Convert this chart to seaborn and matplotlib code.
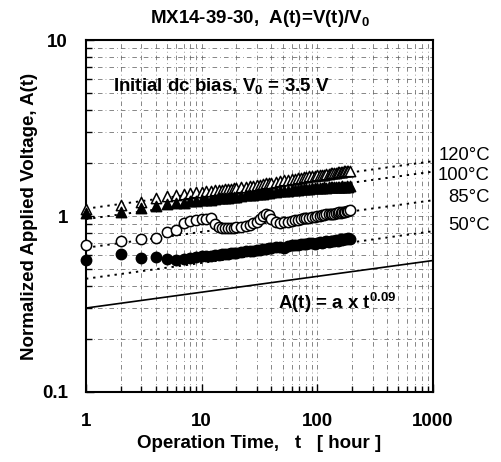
import numpy as np
import pandas as pd
import matplotlib
matplotlib.use("Agg")
import matplotlib.pyplot as plt
import seaborn as sns
from matplotlib.ticker import LogLocator, FixedLocator, NullFormatter

sns.set_theme(style="white")
plt.rcParams['font.family'] = ['Liberation Sans', 'DejaVu Sans']
plt.rcParams['text.color'] = 'black'
plt.rcParams['axes.labelcolor'] = 'black'
plt.rcParams['xtick.color'] = 'black'
plt.rcParams['ytick.color'] = 'black'
plt.rcParams['mathtext.fontset'] = 'custom'
plt.rcParams['mathtext.rm'] = 'Liberation Sans:bold'
plt.rcParams['mathtext.it'] = 'Liberation Sans:bold'
plt.rcParams['mathtext.bf'] = 'Liberation Sans:bold'

# ---- data ----
hours = ([1, 2, 3, 4, 5, 6, 7, 8, 9, 10, 11, 12, 13, 14, 15, 16, 17, 18, 19, 20]
         + [22, 24, 26, 28, 30, 32, 34, 36, 38, 40]
         + [44, 48, 52, 56, 60, 64, 68, 72, 76, 80]
         + [85, 90, 95, 100, 105, 110, 115, 120, 125, 130, 135, 140, 145, 150,
            155, 160, 165, 170, 175, 180, 185, 190])

a_120C = ([1.10, 1.155, 1.20, 1.27, 1.30, 1.32, 1.34, 1.35, 1.36, 1.37,
           1.38, 1.39, 1.40, 1.41, 1.41, 1.42, 1.43, 1.43, 1.44, 1.45]
          + [1.46, 1.47, 1.48, 1.49, 1.50, 1.51, 1.52, 1.53, 1.54, 1.55]
          + [1.57, 1.58, 1.60, 1.61, 1.62, 1.63, 1.64, 1.65, 1.66, 1.67]
          + [1.68, 1.69, 1.69, 1.70, 1.71, 1.72, 1.72, 1.73, 1.74, 1.75, 1.75,
             1.76, 1.76, 1.77, 1.77, 1.78, 1.78, 1.79, 1.79, 1.80, 1.80, 1.81])

a_100C = ([1.04, 1.05, 1.11, 1.14, 1.17, 1.185, 1.19, 1.22, 1.22, 1.23,
           1.24, 1.24, 1.25, 1.26, 1.26, 1.27, 1.27, 1.28, 1.28, 1.29]
          + [1.30, 1.31, 1.31, 1.32, 1.33, 1.33, 1.34, 1.35, 1.35, 1.36]
          + [1.37, 1.38, 1.38, 1.39, 1.40, 1.40, 1.41, 1.42, 1.42, 1.43]
          + [1.43, 1.44, 1.44, 1.45, 1.44, 1.45, 1.46, 1.45, 1.46, 1.46, 1.47,
             1.46, 1.47, 1.47, 1.46, 1.47, 1.48, 1.47, 1.47, 1.48, 1.47, 1.48])

a_85C = ([0.684, 0.72, 0.74, 0.75, 0.81, 0.83, 0.91, 0.94, 0.95, 0.96,
          0.96, 0.97, 0.90, 0.87, 0.86, 0.855, 0.855, 0.86, 0.86, 0.865]
         + [0.87, 0.88, 0.89, 0.91, 0.93, 0.96, 1.00, 1.03, 1.01, 0.96]
         + [0.92, 0.91, 0.92, 0.93, 0.94, 0.95, 0.95, 0.96, 0.97, 0.98]
         + [0.98, 0.99, 0.99, 1.00, 1.00, 1.01, 1.01, 1.02, 1.02, 1.03, 1.03,
            1.03, 1.04, 1.04, 1.05, 1.04, 1.05, 1.06, 1.06, 1.07, 1.07, 1.08])

a_50C = ([0.562, 0.608, 0.577, 0.585, 0.57, 0.562, 0.57, 0.577, 0.585, 0.59,
          0.59, 0.595, 0.60, 0.60, 0.605, 0.61, 0.61, 0.615, 0.62, 0.62]
         + [0.625, 0.63, 0.63, 0.635, 0.64, 0.645, 0.65, 0.65, 0.655, 0.66]
         + [0.665, 0.67, 0.66, 0.675, 0.68, 0.685, 0.68, 0.69, 0.69, 0.695]
         + [0.70, 0.70, 0.69, 0.705, 0.71, 0.70, 0.715, 0.72, 0.71, 0.72, 0.725,
            0.72, 0.73, 0.725, 0.73, 0.74, 0.73, 0.74, 0.745, 0.74, 0.75, 0.745])

temps = ["120\u00b0C", "100\u00b0C", "85\u00b0C", "50\u00b0C"]
fit_a = [1.10, 0.96, 0.66, 0.44]       # A(t) = a * t^n fits (dotted)
fit_n = 0.09
ref_a = 0.30                            # solid reference line

x_ticks = [1, 10, 100, 1000]
x_ticklabels = ["1", "10", "100", "1000"]
y_ticks = [0.1, 1, 10]
y_ticklabels = ["0.1", "1", "10"]

# ---- figure ----
fig = plt.figure(figsize=(5.02, 4.62), dpi=100)
ax = fig.add_axes([86 / 502, 1 - 392 / 462, (433 - 86) / 502, (392 - 40) / 462])
ax.set_xscale("log")
ax.set_yscale("log")
ax.set_xlim(1, 1000)
ax.set_ylim(0.1, 10)

# grid
ax.xaxis.set_minor_locator(LogLocator(base=10, subs=np.arange(2, 10)))
ax.yaxis.set_minor_locator(LogLocator(base=10, subs=np.arange(2, 10)))
ax.grid(True, which="both", color="#666666", linestyle=(0, (6, 4, 1, 4)), linewidth=0.55)
ax.set_axisbelow(True)

# fit lines
tt = np.logspace(0, 3, 60)
for a in fit_a:
    df_fit = pd.DataFrame({"t": tt, "A": a * tt ** fit_n})
    sns.lineplot(data=df_fit, x="t", y="A", ax=ax, color="black",
                 linestyle=(0, (1.2, 2.5)), linewidth=1.4, zorder=2)
df_ref = pd.DataFrame({"t": tt, "A": ref_a * tt ** fit_n})
sns.lineplot(data=df_ref, x="t", y="A", ax=ax, color="black", linewidth=1.2, zorder=2)

series = [(a_120C, "^", "white"), (a_100C, "^", "black"),
          (a_85C, "o", "white"), (a_50C, "o", "black")]
for vals, mk, fc in series:
    df = pd.DataFrame({"t": hours, "A": vals})
    sns.scatterplot(data=df, x="t", y="A", ax=ax, marker=mk, s=55,
                    facecolor=fc, edgecolor="black", linewidth=1.1, zorder=3,
                    clip_on=False)

# axes styling
for sp in ax.spines.values():
    sp.set_color("black")
    sp.set_linewidth(1.5)
ax.xaxis.set_major_locator(FixedLocator(x_ticks))
ax.yaxis.set_major_locator(FixedLocator(y_ticks))
ax.set_xticklabels(x_ticklabels, fontsize=13.5, fontweight="bold")
ax.set_yticklabels(y_ticklabels, fontsize=13.5, fontweight="bold")
ax.xaxis.set_minor_formatter(NullFormatter())
ax.yaxis.set_minor_formatter(NullFormatter())
ax.tick_params(axis="both", which="both", direction="in", bottom=True, left=True,
               top=False, right=False, colors="black", labelcolor="black")
ax.tick_params(axis="x", which="major", length=6, width=1.0, pad=15)
ax.tick_params(axis="x", which="minor", length=4, width=1.0)
ax.tick_params(axis="y", which="major", length=6, width=1.0, pad=13)
ax.tick_params(axis="y", which="minor", length=4, width=1.0)

ax.set_xlabel("Operation Time,   t   [ hour ]", fontsize=13.5, fontweight="bold",
              labelpad=4, color="black")
ax.set_ylabel("Normalized Applied Voltage, A(t)", fontsize=13.5, fontweight="bold",
              labelpad=3, color="black")
ax.set_title("MX14-39-30,  A(t)=V(t)/V$_0$", fontsize=13.5, fontweight="bold",
             pad=12, color="black")

fig.text(113 / 502, 1 - 86 / 462, "Initial dc bias, V$_0$ = 3.5 V",
         fontsize=13.5, fontweight="bold", va="center", ha="left", color="black")
fig.text(278 / 502, 1 - 303 / 462, "A(t) = a x t$^{0.09}$",
         fontsize=13.5, fontweight="bold", va="center", ha="left", color="black")

label_y = [155, 175, 197, 226]
for lab, yy in zip(temps, label_y):
    fig.text(490 / 502, 1 - yy / 462, lab, fontsize=13.3, ha="right", va="center",
             color="black")

fig.savefig("out.png", dpi=100)
